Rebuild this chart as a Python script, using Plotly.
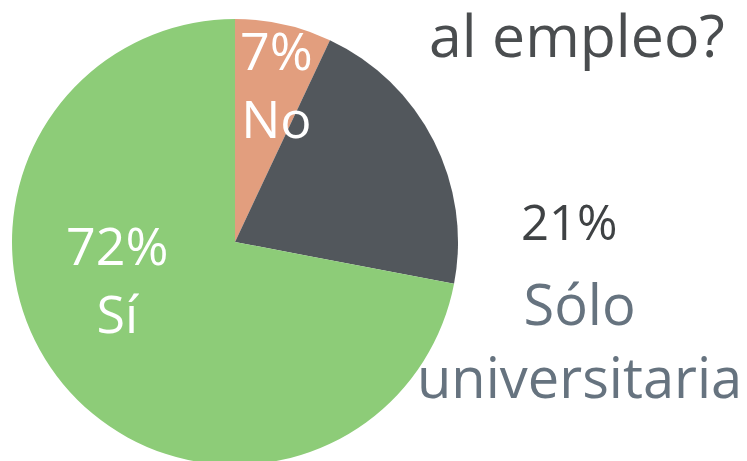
import plotly.graph_objects as go

labels = ["No", "Sólo<br>universitaria", "Sí"]
values = [7, 21, 72]
colors = ["#E29E7E", "#52575C", "#8DCC78"]
title_text = "al empleo?"

W, H = 747, 461
OFF = 8  # page body margin offset


def px(x, y):
    return (x - OFF) / W, 1 - (y - OFF) / H


x0, _ = px(12, 0)
x1, _ = px(458, 0)
_, y1 = px(0, 19)
_, y0 = px(0, 465)

fig = go.Figure(go.Pie(
    labels=labels, values=values, sort=False, direction="clockwise", rotation=0,
    marker=dict(colors=colors, line=dict(width=0)),
    textinfo="none", hoverinfo="label+percent",
    domain=dict(x=[x0, x1], y=[max(0, y0), y1]),
    showlegend=False,
))

font = "Open Sans"
fs = 52


def ann(x, y, text, color, size=fs, xanchor="center"):
    ax, ay = px(x, y)
    return dict(x=ax, y=ay, xref="paper", yref="paper", showarrow=False,
                xanchor=xanchor, yanchor="middle", text=text, align="center",
                font=dict(family=font, size=size, color=color))


anns = [
    ann(276, 84, f"{values[0]}%<br>{labels[0]}", "white"),
    ann(117, 278, f"{values[2]}%<br>{labels[2]}", "white"),
    ann(569, 221, f"{values[1]}%", "#3F4244", size=49),
    ann(579, 339, labels[1], "#66737F", size=56),
    ann(727, 34, title_text, "#4A4D4F", size=59, xanchor="right"),
]

fig.update_layout(width=W, height=H, margin=dict(l=0, r=0, t=0, b=0),
                  paper_bgcolor="white", plot_bgcolor="white", annotations=anns)
fig.write_html("out.html")
